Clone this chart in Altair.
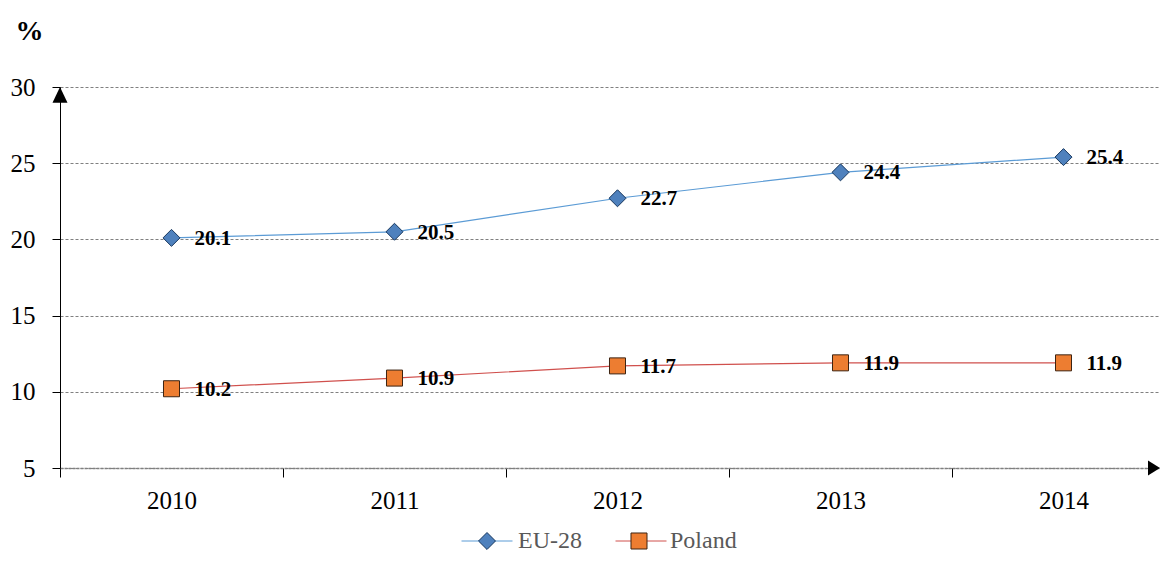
import altair as alt
import pandas as pd

# ---- data ----
years = [2010, 2011, 2012, 2013, 2014]
eu28 = [20.1, 20.5, 22.7, 24.4, 25.4]
poland = [10.2, 10.9, 11.7, 11.9, 11.9]
series_names = ["EU-28", "Poland"]
y_ticks = [5, 10, 15, 20, 25, 30]

rows = []
for name, vals in zip(series_names, [eu28, poland]):
    for yr, v in zip(years, vals):
        rows.append({"year": yr, "value": v, "series": name, "series2": name,
                     "label": f"{v:.1f}"})
df = pd.DataFrame(rows)

# category boundaries (ticks sit between the years)
boundaries = [y - 0.5 for y in years]
X_MIN = years[0] - 0.5
X_MAX = 2014.4327
Y_MIN, Y_MAX = 5, 30

FONT = "Liberation Serif"
line_colors = ["#5b9bd5", "#d0504d"]
marker_fills = ["#4f81bd", "#ed7d31"]
marker_strokes = ["#17375e", "#3d2412"]
marker_paths = ["M0,-0.333L0.333,0L0,0.333L-0.333,0Z",
                "M-0.314,-0.314H0.314V0.314H-0.314Z"]

x_enc = alt.X("year:Q",
              scale=alt.Scale(domain=[X_MIN, X_MAX], nice=False, zero=False),
              axis=alt.Axis(values=boundaries, title=None,
                            labelExpr="'' + (datum.value + 0.5)",
                            labelOffset=111.5, labelFlush=False,
                            labelOverlap=False, labelBound=False,
                            labelFont=FONT, labelFontSize=25, labelColor="#000000",
                            labelPadding=11, tickSize=9, tickColor="#000000",
                            tickWidth=1, grid=False,
                            domainColor="#808080", domainWidth=1.5,
                            domainDash=[3, 1]))
y_enc = alt.Y("value:Q",
              scale=alt.Scale(domain=[Y_MIN, Y_MAX], nice=False, zero=False),
              axis=alt.Axis(values=y_ticks, title="%", titleAngle=0,
                            titleX=-31, titleY=-48, titleAlign="center",
                            titleBaseline="alphabetic", titleFont=FONT,
                            titleFontSize=28, titleFontWeight="bold",
                            titleColor="#000000",
                            labelFont=FONT, labelFontSize=25, labelColor="#000000",
                            labelPadding=17, tickSize=8, tickColor="#000000",
                            domainColor="#000000", domainWidth=1,
                            grid=True, gridColor="#808080", gridDash=[3, 2],
                            gridWidth=1))

LEG_FS = 24
common_legend = dict(title=None, orient="none", direction="horizontal",
                     legendX=401, legendY=428, symbolSize=2601,
                     symbolStrokeWidth=1,
                     labelFont=FONT, labelFontSize=LEG_FS, labelColor="#595959",
                     labelOffset=5, padding=0)

# line-only legend (no label text) sits under the marker legend
legend_lines = alt.Legend(symbolType="M-1,0H1", labelExpr="''",
                          columnPadding=95, **common_legend)
legend_marks = alt.Legend(columnPadding=31, **common_legend)

base = alt.Chart(df)

lines = base.mark_line(strokeWidth=1.2).encode(
    x=x_enc, y=y_enc,
    color=alt.Color("series:N",
                    scale=alt.Scale(range=line_colors),
                    legend=legend_lines),
)

points = base.mark_point(filled=True, size=2601, strokeWidth=1, opacity=1).encode(
    x=x_enc, y=y_enc,
    fill=alt.Fill("series2:N",
                  scale=alt.Scale(domain=series_names, range=marker_fills),
                  legend=legend_marks),
    stroke=alt.Stroke("series2:N",
                      scale=alt.Scale(domain=series_names, range=marker_strokes),
                      legend=legend_marks),
    shape=alt.Shape("series2:N",
                    scale=alt.Scale(domain=series_names, range=marker_paths),
                    legend=legend_marks),
)

labels = base.mark_text(align="left", baseline="alphabetic", dx=23, dy=7,
                        font=FONT, fontSize=21, fontWeight="bold",
                        color="#000000").encode(
    x=x_enc, y=y_enc, text="label:N")

arrow_df = pd.DataFrame({"k": [0]})
up_arrow = alt.Chart(arrow_df).mark_point(
    shape="M0,0L-1,2.1L1,2.1Z", size=225, filled=True,
    color="#000000", opacity=1).encode(
    x=alt.X(datum=X_MIN, type="quantitative"),
    y=alt.Y(datum=Y_MAX, type="quantitative"))
right_arrow = alt.Chart(arrow_df).mark_point(
    shape="M0,0L-1.6,-1L-1.6,1Z", size=225, filled=True,
    color="#000000", opacity=1).encode(
    x=alt.X(datum=X_MAX, type="quantitative"),
    y=alt.Y(datum=Y_MIN, type="quantitative"))

chart = alt.layer(lines, points, labels, up_arrow, right_arrow).properties(
    width=1100, height=381,
    autosize=alt.AutoSizeParams(type="none"),
    padding={"left": 52, "top": 79, "right": 0, "bottom": 89},
    background="#ffffff",
).configure_view(stroke=None)

chart.save("out.html", embed_options={"renderer": "svg", "actions": False})
